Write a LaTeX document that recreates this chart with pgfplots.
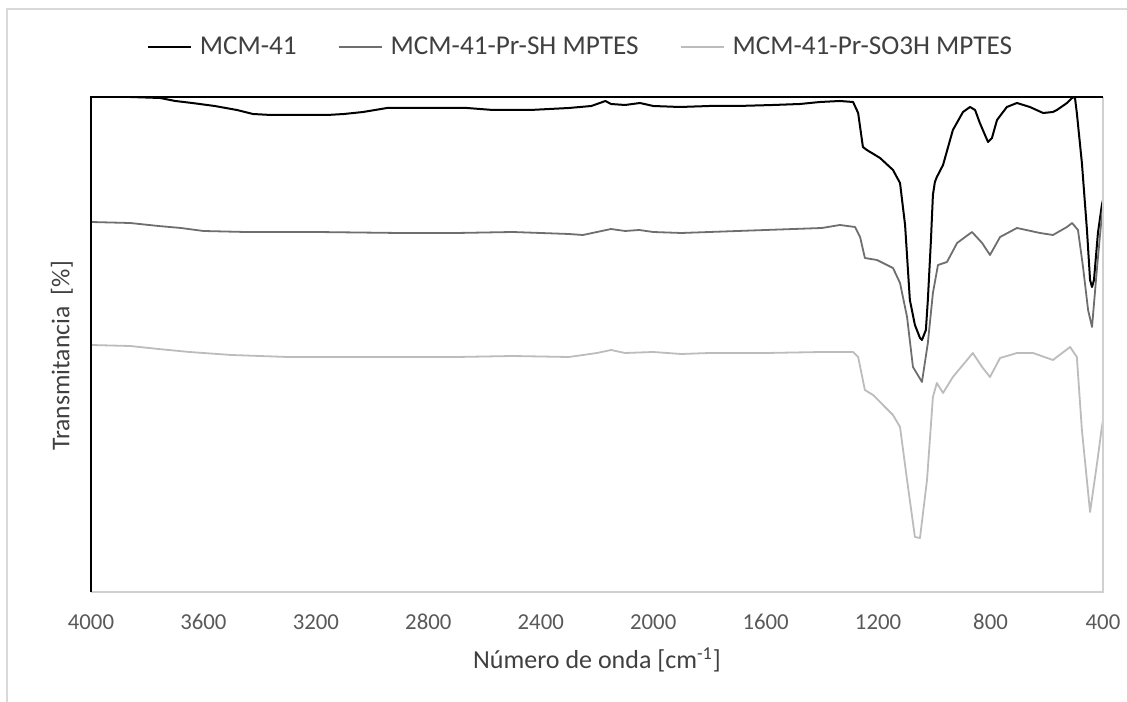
\documentclass[border=0pt]{standalone}
\usepackage{fontspec}
\setmainfont{Carlito}
\usepackage{pgfplots}
\usepackage{pgfplotstable}
\pgfplotsset{compat=1.18}
\definecolor{sMcm}{HTML}{000000}
\definecolor{sSh}{HTML}{6E6E6E}
\definecolor{sSo}{HTML}{BCBCBC}
\definecolor{inkT}{HTML}{595959}
\definecolor{inkL}{HTML}{404040}
\definecolor{frameL}{HTML}{D9D9D9}
\definecolor{plotL}{HTML}{D0D0D0}

% wavenumber [cm^-1], transmittance (arbitrary units)
\pgfplotstableread{
wn t
4000 495
3861 495
3754 494
3700 491
3640 489
3560 486
3481 482
3424 478
3360 477
3160 477
3100 478
3032 480
2947 484
2800 484
2662 484
2570 482
2438 482
2300 484
2220 486
2170 491
2150 488
2100 487
2047 489
2000 486
1905 485
1800 486
1700 486
1574 487
1478 488
1407 490
1336 491
1289 490
1271 479
1254 445
1240 442
1193 434
1147 422
1122 409
1104 367
1087 292
1069 267
1051 254
1044 252
1030 262
1023 292
1012 352
1005 397
998 410
991 415
969 427
934 462
898 480
873 485
855 482
838 469
809 450
795 454
777 472
742 485
706 489
660 485
613 479
578 480
564 482
528 489
510 494
500 495
493 479
475 429
457 362
446 312
439 305
432 312
418 359
404 387
400 392
}\mcm

\pgfplotstableread{
wn t
4000 370
3861 369
3760 366
3680 364
3600 361
3450 360
3200 360
2900 359
2700 359
2500 360
2300 358
2250 357
2200 360
2150 363
2100 361
2050 362
2000 360
1900 359
1800 360
1700 361
1600 362
1500 363
1400 364
1336 367
1282 365
1264 355
1247 334
1204 332
1147 324
1122 309
1097 275
1076 225
1044 210
1023 249
1005 299
987 327
955 330
919 349
866 360
830 349
802 337
766 355
706 364
624 359
578 357
528 365
510 369
489 362
471 325
453 282
439 265
421 325
404 377
400 384
}\mcmsh

\pgfplotstableread{
wn t
4000 247
3861 246
3760 243
3650 240
3500 237
3300 235
3000 235
2700 235
2500 236
2300 235
2200 239
2150 242
2100 239
2000 240
1900 238
1800 239
1600 239
1400 240
1289 240
1271 235
1247 202
1218 197
1147 177
1122 165
1097 112
1069 55
1051 54
1026 112
1005 195
991 209
969 199
934 215
863 239
830 225
802 215
766 234
706 239
649 239
578 232
517 245
493 235
475 162
446 80
421 129
404 165
400 172
}\mcmso

\begin{document}
\begin{tikzpicture}
\useasboundingbox (0,0) rectangle (563.5bp,351bp);
\draw[frameL, line width=1bp] (3.5bp,0) -- (3.5bp,346.5bp) -- (563.5bp,346.5bp);
\begin{axis}[
    at={(45.5bp,55bp)}, anchor=south west,
    scale only axis, width=506bp, height=247.5bp,
    x dir=reverse, xmin=400, xmax=4000, ymin=0, ymax=495,
    xtick={400,800,...,4000}, ytick=\empty,
    major tick length=0pt,
    axis line style={draw=none},
    /pgf/number format/assume math mode=true,
    /pgf/number format/1000 sep={},
    xticklabel style={font=\fontsize{11.4bp}{13bp}\selectfont, text=inkT,
        anchor=center, yshift=-15bp},
    xlabel={Número de onda [cm\textsuperscript{-1}]},
    xlabel style={font=\fontsize{13bp}{15bp}\selectfont, text=inkL,
        at={(axis description cs:0.5,0)}, anchor=center, yshift=-34bp},
    ylabel={Transmitancia\ \ [\%]},
    ylabel style={font=\fontsize{12.8bp}{15bp}\selectfont, text=inkL,
        at={(axis description cs:-0.0287,0.477)}, anchor=center},
    legend columns=3,
    legend style={at={(axis description cs:0.4827,1.101)}, anchor=center,
        draw=none, fill=none, font=\fontsize{13.6bp}{16bp}\selectfont,
        text=inkL, inner sep=0pt, nodes={inner sep=0pt},
        /tikz/every odd column/.append style={column sep=4bp},
        /tikz/every even column/.append style={column sep=20.5bp}},
    legend image code/.code={\draw[#1, line width=1bp] (0bp,0bp) -- (21.5bp,0bp);},
    every axis plot/.append style={line width=0.9bp, line join=round},
    clip mode=individual,
]
\addplot[sMcm, line width=1bp] table[x=wn, y=t] {\mcm};
\addlegendentry{MCM-41}
\addplot[sSh] table[x=wn, y=t] {\mcmsh};
\addlegendentry{MCM-41-Pr-SH MPTES}
\addplot[sSo] table[x=wn, y=t] {\mcmso};
\addlegendentry{MCM-41-Pr-SO3H MPTES}
\draw[plotL, line width=1bp] (rel axis cs:0,0) -- (rel axis cs:1,0) -- (rel axis cs:1,1);
\draw[black, line width=1bp] (rel axis cs:0,0) -- (rel axis cs:0,1) -- (rel axis cs:1,1);
\end{axis}
\end{tikzpicture}
\end{document}
